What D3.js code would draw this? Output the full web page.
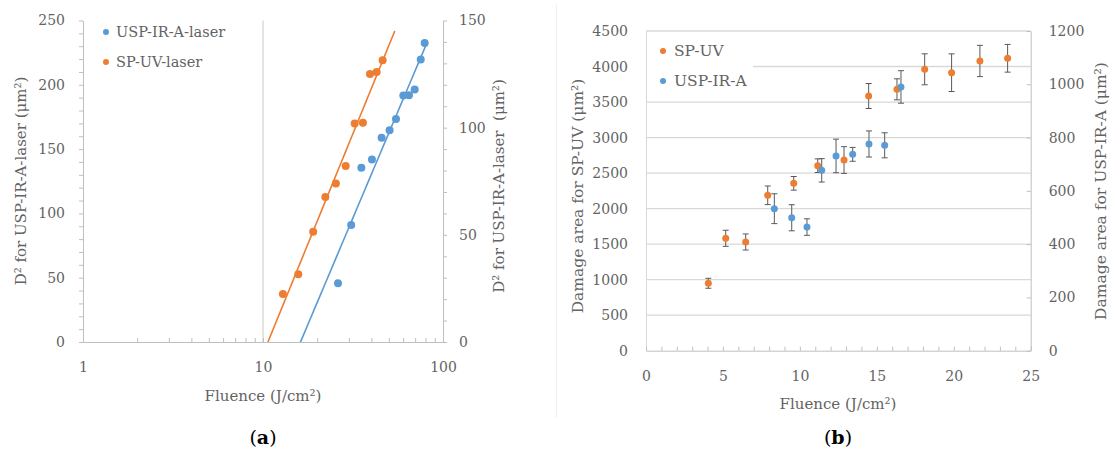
<!DOCTYPE html>
<html>
<head>
<meta charset="utf-8">
<script src="https://cdn.jsdelivr.net/npm/d3@7"></script>
<style>
  body { margin: 0; background: #fff; }
  svg text { font-family: "DejaVu Serif", "Liberation Serif", serif; fill: #636363; }
</style>
</head>
<body>
<div id="chart"></div>
<script>
// ---------- data (a) : D² vs fluence, log x ----------
var irFluenceA = [26.1, 30.9, 35.2, 40.3, 45.6, 50.5, 54.8, 60.2, 64.7, 69.6, 75.2, 79.1];
var irD2A      = [45.6, 90.9, 135.5, 142.0, 158.8, 164.7, 173.5, 191.7, 191.9, 196.4, 219.7, 232.6];
var uvFluenceA = [12.9, 15.7, 19.0, 22.2, 25.4, 28.8, 32.3, 35.9, 39.3, 42.8, 46.2];
var uvD2A      = [22.4, 31.6, 51.4, 67.7, 74.0, 82.1, 102.0, 102.3, 125.0, 126.0, 131.5];
var irTrendSpan = [15, 81];
var uvTrendSpan = [10, 54];
var leftTicksA = [0, 50, 100, 150, 200, 250];
var rightTicksA = [0, 50, 100, 150];
var xTicksA = [1, 10, 100];

// ---------- data (b) : damage area vs fluence ----------
var uvFluenceB = [4.05, 5.18, 6.48, 7.91, 9.60, 11.16, 12.87, 14.47, 16.31, 18.11, 19.86, 21.70, 23.50];
var uvAreaB    = [949, 1582, 1530, 2187, 2356, 2604, 2684, 3585, 3679, 3961, 3913, 4078, 4116];
var uvErrB     = [70, 113, 113, 131, 96, 96, 188, 176, 148, 218, 265, 220, 195];
var irFluenceB = [8.34, 9.47, 10.46, 11.42, 12.35, 13.43, 14.49, 15.51, 16.57];
var irAreaB    = [533, 499, 464, 677, 731, 737, 776, 771, 990];
var irErrB     = [56, 49, 31, 44, 63, 26, 49, 47, 61];
var leftTicksB = [0, 500, 1000, 1500, 2000, 2500, 3000, 3500, 4000, 4500];
var rightTicksB = [0, 200, 400, 600, 800, 1000, 1200];
var xTicksB = [0, 5, 10, 15, 20, 25];

var ORANGE = "#ED7D31", BLUE = "#5B9BD5", AXIS = "#bfbfbf", GRID = "#d9d9d9";
var plain = function(d) { return String(d); };

var svg = d3.select("#chart").append("svg")
  .attr("width", 1111)
  .attr("height", 456);

// log trendline fit y = a*ln(x) + b
function logFit(xs, ys) {
  var lx = xs.map(function(v) { return Math.log(v); });
  var mx = d3.mean(lx), my = d3.mean(ys);
  var sxy = d3.sum(lx, function(v, i) { return (v - mx) * (ys[i] - my); });
  var sxx = d3.sum(lx, function(v) { return (v - mx) * (v - mx); });
  var a = sxy / sxx;
  return function(x) { return a * Math.log(x) + (my - a * mx); };
}

function styleAxis(g) {
  g.selectAll("path.domain").attr("stroke", AXIS);
  g.selectAll(".tick line").attr("stroke", AXIS);
  g.selectAll(".tick text")
    .attr("fill", "#636363")
    .style("font-family", '"DejaVu Serif", serif')
    .style("font-size", "14px");
}

//========== chart (a) ==========
var xA = d3.scaleLog().domain([1, 100]).range([83, 443]);
var yA = d3.scaleLinear().domain([0, 250]).range([342, 20.5]);
var yA2 = d3.scaleLinear().domain([0, 150]).range([342, 20.5]);

var a = svg.append("g");

a.append("defs").append("clipPath").attr("id", "clipA")
  .append("rect")
  .attr("x", xA(1)).attr("y", yA(250))
  .attr("width", xA(100) - xA(1)).attr("height", yA(0) - yA(250));

// gridline at 10
a.append("line")
  .attr("x1", xA(10)).attr("x2", xA(10))
  .attr("y1", yA(250)).attr("y2", yA(0))
  .attr("stroke", "#c8c8c8");

var minorLog = [];
[1, 10].forEach(function(d) { for (var k = 2; k <= 9; k++) minorLog.push(d * k); });

a.append("g")
  .attr("transform", "translate(0," + yA(0) + ")")
  .call(d3.axisBottom(xA).tickValues(xTicksA.concat(minorLog))
    .tickFormat(function(d) { return xTicksA.indexOf(d) >= 0 ? plain(d) : ""; })
    .tickSizeInner(-4).tickSizeOuter(0).tickPadding(20))
  .call(styleAxis);

a.append("g")
  .attr("transform", "translate(" + xA(1) + ",0)")
  .call(d3.axisLeft(yA).tickValues(d3.range(0, 251, 10))
    .tickFormat(function(d) { return leftTicksA.indexOf(d) >= 0 ? plain(d) : ""; })
    .tickSizeInner(4).tickSizeOuter(0).tickPadding(14))
  .call(styleAxis);

a.append("g")
  .attr("transform", "translate(" + xA(100) + ",0)")
  .call(d3.axisRight(yA2).tickValues(d3.range(0, 151, 10))
    .tickFormat(function(d) { return rightTicksA.indexOf(d) >= 0 ? plain(d) : ""; })
    .tickSizeInner(4).tickSizeOuter(0).tickPadding(12))
  .call(styleAxis);

// trendlines
var irFit = logFit(irFluenceA, irD2A);
var uvFit = logFit(uvFluenceA, uvD2A);
var trendLine = d3.line();
function trendPts(span, fit, ys) {
  return d3.range(0, 41).map(function(i) {
    var f = span[0] * Math.pow(span[1] / span[0], i / 40);
    return [xA(f), ys(fit(f))];
  });
}
a.append("path")
  .attr("d", trendLine(trendPts(uvTrendSpan, uvFit, yA2)))
  .attr("clip-path", "url(#clipA)")
  .attr("fill", "none").attr("stroke", ORANGE).attr("stroke-width", 1.6);
a.append("path")
  .attr("d", trendLine(trendPts(irTrendSpan, irFit, yA)))
  .attr("clip-path", "url(#clipA)")
  .attr("fill", "none").attr("stroke", BLUE).attr("stroke-width", 1.6);

a.append("g").selectAll("circle")
  .data(irFluenceA)
  .enter().append("circle")
  .attr("cx", function(d) { return xA(d); })
  .attr("cy", function(d, i) { return yA(irD2A[i]); })
  .attr("r", 4)
  .attr("fill", BLUE);

a.append("g").selectAll("circle")
  .data(uvFluenceA)
  .enter().append("circle")
  .attr("cx", function(d) { return xA(d); })
  .attr("cy", function(d, i) { return yA2(uvD2A[i]); })
  .attr("r", 4)
  .attr("fill", ORANGE);

// legend (a)
var legA = [["USP-IR-A-laser", BLUE], ["SP-UV-laser", ORANGE]];
legA.forEach(function(l, i) {
  a.append("circle").attr("cx", 106).attr("cy", 32 + i * 30).attr("r", 3).attr("fill", l[1]);
  a.append("text").attr("x", 116).attr("y", 32 + i * 30).attr("dy", "0.35em")
    .style("font-size", "14.5px").text(l[0]);
});

// titles (a)
a.append("text")
  .attr("transform", "translate(26,181) rotate(-90)")
  .attr("text-anchor", "middle")
  .style("font-size", "15px")
  .text("D² for USP-IR-A-laser (μm²)");
a.append("text")
  .attr("transform", "translate(504,186) rotate(-90)")
  .attr("text-anchor", "middle")
  .style("font-size", "15px")
  .style("white-space", "pre")
  .text("D² for USP-IR-A-laser  (μm²)");
a.append("text")
  .attr("x", 263).attr("y", 401)
  .attr("text-anchor", "middle")
  .style("font-size", "15px")
  .text("Fluence (J/cm²)");
var capA = a.append("text").attr("x", 263).attr("y", 444).attr("text-anchor", "middle")
  .style("font-size", "19px");
capA.append("tspan").style("fill", "#000").text("(");
capA.append("tspan").style("fill", "#000").style("font-weight", "bold").text("a");
capA.append("tspan").style("fill", "#000").text(")");

//========== chart (b) ==========
var xB = d3.scaleLinear().domain([0, 25]).range([646, 1030.7]);
var yB = d3.scaleLinear().domain([0, 4500]).range([350.7, 31]);
var yB2 = d3.scaleLinear().domain([0, 1200]).range([350.7, 31]);

var b = svg.append("g");

// faint frame of the figure panel
b.append("line").attr("x1", 556.5).attr("x2", 556.5).attr("y1", 4).attr("y2", 418)
  .attr("stroke", "#f0f0f0");

// gridlines
b.append("g").selectAll("line")
  .data(leftTicksB.slice(1))
  .enter().append("line")
  .attr("x1", xB(0)).attr("x2", xB(25))
  .attr("y1", function(d) { return yB(d); })
  .attr("y2", function(d) { return yB(d); })
  .attr("stroke", GRID).attr("stroke-width", 1.3);

b.append("g")
  .attr("transform", "translate(" + xB(0) + ",0)")
  .call(d3.axisLeft(yB).tickValues(leftTicksB).tickFormat(plain).tickSize(0).tickPadding(18))
  .call(styleAxis)
  .call(function(g) { g.select("path.domain").attr("stroke", GRID); });

b.append("g")
  .attr("transform", "translate(" + xB(25) + ",0)")
  .call(d3.axisRight(yB2).tickValues(rightTicksB).tickFormat(plain)
    .tickSizeInner(-4).tickSizeOuter(0).tickPadding(18))
  .call(styleAxis);

b.append("g")
  .attr("transform", "translate(0," + yB(0) + ")")
  .call(d3.axisBottom(xB).tickValues(d3.range(0, 26, 1))
    .tickFormat(function(d) { return xTicksB.indexOf(d) >= 0 ? plain(d) : ""; })
    .tickSizeInner(-4).tickSizeOuter(0).tickPadding(20))
  .call(styleAxis);

// legend box (b)
b.append("rect").attr("x", 647).attr("y", 35).attr("width", 106).attr("height", 60).attr("fill", "#fff");
var legB = [["SP-UV", ORANGE], ["USP-IR-A", BLUE]];
legB.forEach(function(l, i) {
  b.append("circle").attr("cx", 663).attr("cy", 51 + i * 30).attr("r", 3).attr("fill", l[1]);
  b.append("text").attr("x", 674).attr("y", 51 + i * 30).attr("dy", "0.35em")
    .style("font-size", "15.5px").text(l[0]);
});

function drawErrSeries(g, xs, ys, errs, yScale, color) {
  var grp = g.append("g");
  xs.forEach(function(f, i) {
    var cx = xB(f), top = yScale(ys[i] + errs[i]), bot = yScale(ys[i] - errs[i]);
    grp.append("line").attr("x1", cx).attr("x2", cx).attr("y1", top).attr("y2", bot)
      .attr("stroke", "#595959").attr("stroke-width", 1);
    [top, bot].forEach(function(yy) {
      grp.append("line").attr("x1", cx - 3).attr("x2", cx + 3).attr("y1", yy).attr("y2", yy)
        .attr("stroke", "#595959").attr("stroke-width", 1);
    });
  });
  grp.selectAll("circle")
    .data(xs)
    .enter().append("circle")
    .attr("cx", function(d) { return xB(d); })
    .attr("cy", function(d, i) { return yScale(ys[i]); })
    .attr("r", 3.5)
    .attr("fill", color);
}
drawErrSeries(b, uvFluenceB, uvAreaB, uvErrB, yB, ORANGE);
drawErrSeries(b, irFluenceB, irAreaB, irErrB, yB2, BLUE);

// titles (b)
b.append("text")
  .attr("transform", "translate(583,196) rotate(-90)")
  .attr("text-anchor", "middle")
  .style("font-size", "15.5px")
  .text("Damage area for SP-UV (μm²)");
b.append("text")
  .attr("transform", "translate(1106,191) rotate(-90)")
  .attr("text-anchor", "middle")
  .style("font-size", "15.5px")
  .text("Damage area for USP-IR-A (μm²)");
b.append("text")
  .attr("x", 838).attr("y", 409)
  .attr("text-anchor", "middle")
  .style("font-size", "15px")
  .text("Fluence (J/cm²)");
var capB = b.append("text").attr("x", 838).attr("y", 444).attr("text-anchor", "middle")
  .style("font-size", "19px");
capB.append("tspan").style("fill", "#000").text("(");
capB.append("tspan").style("fill", "#000").style("font-weight", "bold").text("b");
capB.append("tspan").style("fill", "#000").text(")");
</script>
</body>
</html>
